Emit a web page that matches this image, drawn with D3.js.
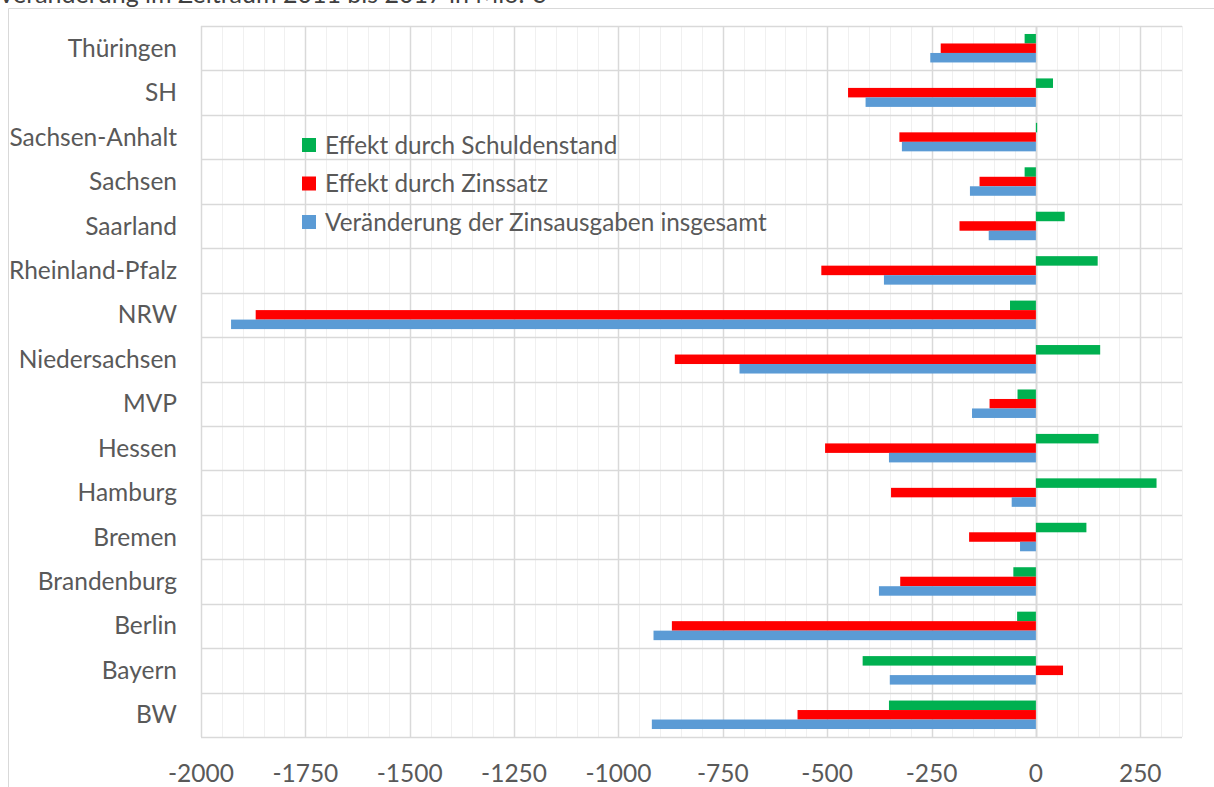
<!DOCTYPE html>
<html>
<head>
<meta charset="utf-8">
<script src="https://cdn.jsdelivr.net/npm/d3@7"></script>
<style>
  body { margin: 0; background: #fff; }
  svg { display: block; font-family: Lato, "Open Sans", sans-serif; }
</style>
</head>
<body>
<div id="chart"></div>
<script>
// Veränderung der Zinsausgaben der Länder 2011-2017 (Mio. €)
var laender = ["Thüringen", "SH", "Sachsen-Anhalt", "Sachsen", "Saarland", "Rheinland-Pfalz",
  "NRW", "Niedersachsen", "MVP", "Hessen", "Hamburg", "Bremen", "Brandenburg", "Berlin", "Bayern", "BW"];

var schuldenstand = [-27, 41, 3, -27, 69, 148, -62, 154, -44, 150, 289, 121, -54, -45, -415, -352];
var zinssatz      = [-228, -450, -327, -135, -183, -514, -1869, -865, -111, -505, -347, -160, -325, -872, 65, -571];
var insgesamt     = [-253, -408, -321, -158, -113, -364, -1928, -710, -153, -352, -58, -38, -376, -916, -350, -920];

var serien = ["Effekt durch Schuldenstand", "Effekt durch Zinssatz", "Veränderung der Zinsausgaben insgesamt"];
var farben = ["#00B050", "#FF0000", "#5B9BD5"];
var xTicks = [-2000, -1750, -1500, -1250, -1000, -750, -500, -250, 0, 250];

var width = 1214, height = 787,
    plot = {left: 201, right: 1182, top: 26, bottom: 737};

var svg = d3.select("#chart").append("svg")
    .attr("width", width)
    .attr("height", height);

// title, cut off at the top as in the source
svg.append("text")
    .attr("x", -2)
    .attr("y", 3)
    .attr("fill", "#404040")
    .style("font-size", "25px")
    .text("Veränderung im Zeitraum 2011 bis 2017 in Mio. €");

// outer frame
svg.append("path")
    .attr("d", "M8.5," + height + "V8.5H" + width)
    .attr("fill", "none")
    .attr("stroke", "#d9d9d9");

var x = d3.scaleLinear().domain([-2000, 350]).range([plot.left, plot.right]);
var y = d3.scaleBand().domain(laender).range([plot.top, plot.bottom]);
var ySub = d3.scaleBand().domain(serien).range([0, y.bandwidth()]).paddingOuter(0.84);

var g = svg.append("g");

// minor gridlines
g.selectAll(".minor")
    .data(d3.range(-2000, 351, 50).filter(function(v) { return v % 250 !== 0; }))
  .enter().append("line")
    .attr("x1", function(d) { return Math.round(x(d)) + 0.5; })
    .attr("x2", function(d) { return Math.round(x(d)) + 0.5; })
    .attr("y1", plot.top)
    .attr("y2", plot.bottom)
    .attr("stroke", "#f0f0f0");

// major gridlines
g.selectAll(".major")
    .data(xTicks)
  .enter().append("line")
    .attr("x1", function(d) { return Math.round(x(d)) + 0.5; })
    .attr("x2", function(d) { return Math.round(x(d)) + 0.5; })
    .attr("y1", plot.top)
    .attr("y2", plot.bottom)
    .attr("stroke", "#d9d9d9")
    .attr("stroke-width", function(d) { return d === 0 ? 2 : 1.5; });

// right edge of plot
g.append("line")
    .attr("x1", plot.right + 0.5).attr("x2", plot.right + 0.5)
    .attr("y1", plot.top).attr("y2", plot.bottom)
    .attr("stroke", "#f0f0f0");

// horizontal category separators
var bounds = laender.map(function(d) { return y(d); }).concat([plot.bottom]);
g.selectAll(".hline")
    .data(bounds)
  .enter().append("line")
    .attr("x1", plot.left)
    .attr("x2", plot.right)
    .attr("y1", function(d) { return Math.round(d) + 0.5; })
    .attr("y2", function(d) { return Math.round(d) + 0.5; })
    .attr("stroke", "#d9d9d9")
    .attr("stroke-width", 1.5);

// bars
var werte = [schuldenstand, zinssatz, insgesamt];
serien.forEach(function(s, i) {
  g.selectAll(".bar" + i)
      .data(laender)
    .enter().append("rect")
      .attr("x", function(d, j) { return x(Math.min(0, werte[i][j])); })
      .attr("width", function(d, j) { return Math.abs(x(werte[i][j]) - x(0)); })
      .attr("y", function(d) { return y(d) + ySub(s); })
      .attr("height", ySub.bandwidth())
      .attr("fill", farben[i]);
});

// category labels
svg.selectAll(".cat")
    .data(laender)
  .enter().append("text")
    .attr("x", 177)
    .attr("y", function(d) { return y(d) + y.bandwidth() / 2; })
    .attr("dy", "0.35em")
    .attr("text-anchor", "end")
    .attr("fill", "#595959")
    .style("font-size", "24.5px")
    .text(function(d) { return d; });

// x tick labels
svg.selectAll(".tick")
    .data(xTicks)
  .enter().append("text")
    .attr("x", function(d) { return x(d); })
    .attr("y", 782)
    .attr("text-anchor", "middle")
    .attr("fill", "#595959")
    .style("font-size", "24.5px")
    .text(function(d) { return d; });

// legend
var legend = svg.selectAll(".legend")
    .data(serien)
  .enter().append("g")
    .attr("transform", function(d, i) { return "translate(302," + (145 + i * 38.5) + ")"; });

legend.append("rect")
    .attr("x", 0)
    .attr("y", -7)
    .attr("width", 14)
    .attr("height", 14)
    .attr("fill", function(d, i) { return farben[i]; });

legend.append("text")
    .attr("x", 23)
    .attr("dy", "0.35em")
    .attr("fill", "#595959")
    .style("font-size", "24.3px")
    .text(function(d) { return d; });
</script>
</body>
</html>
